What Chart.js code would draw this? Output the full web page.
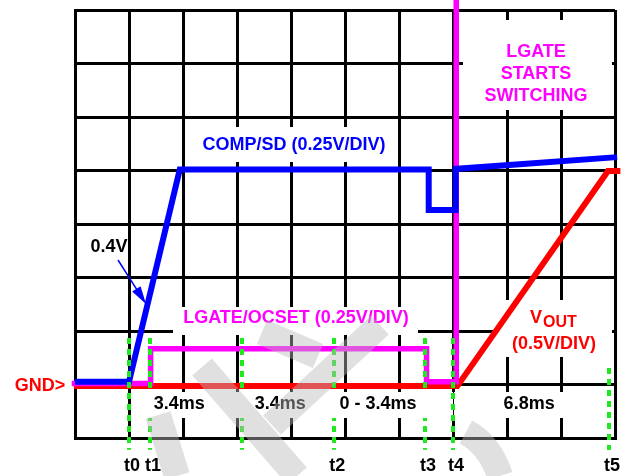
<!DOCTYPE html>
<html>
<head>
<meta charset="utf-8">
<script src="https://cdn.jsdelivr.net/npm/chart.js@4.4.1/dist/chart.umd.min.js"></script>
<style>
  html, body { margin: 0; padding: 0; background: #fff; }
  canvas { display: block; }
</style>
</head>
<body>
<canvas id="scope" width="626" height="476"></canvas>
<script>
// Waveforms in divisions (x: 10 div, y: 8 div, GND at ~1 div)
const compX = [0, 1.0, 1.94, 6.55, 6.55, 7.05, 7.05, 10.04];
const compY = [1.05, 1.05, 5.02, 5.02, 4.26, 4.26, 5.03, 5.25];

const lgateX = [-0.06, 1.4, 1.4, 6.51, 6.51, 7.06, 7.06];
const lgateY = [1.02, 1.02, 1.67, 1.67, 1.05, 1.05, 8.2];

const voutX = [-0.02, 7.08, 9.87, 10.1];
const voutY = [0.97, 0.97, 4.99, 4.99];

// timing markers
const markerTimes = [1.0, 1.39, 3.09, 4.8, 6.48, 7.0, 9.89];
const markerLabels = ['t0', 't1', '', 't2', 't3', 't4', 't5'];
const intervalLabels = ['3.4ms', '3.4ms', '0 - 3.4ms', '6.8ms'];

const toPoints = (xs, ys) => xs.map((x, i) => ({ x: x, y: ys[i] }));

const FONT = '"Liberation Sans", Arial, sans-serif';
const GREEN = '#1ee81e';

// white boxes behind text (grid is broken there)
function clearBoxes(ctx) {
    ctx.save();
    ctx.fillStyle = '#fff';
    ctx.fillRect(192, 127, 200, 35);   // COMP/SD
    ctx.fillRect(173, 307, 245, 28);   // LGATE/OCSET
    ctx.fillRect(463, 20, 149, 90);    // LGATE STARTS SWITCHING
    ctx.fillRect(496, 300, 116, 57);   // VOUT
    ctx.restore();
}

function drawText(ctx, txt, x, y, color, size) {
    ctx.font = 'bold ' + (size || 18) + 'px ' + FONT;
    ctx.fillStyle = color;
    ctx.textAlign = 'center';
    ctx.textBaseline = 'middle';
    ctx.fillText(txt, x, y);
}

function dashedV(ctx, x, y0, y1) {
    ctx.save();
    ctx.strokeStyle = GREEN;
    ctx.lineWidth = 4;
    ctx.setLineDash([6, 5]);
    ctx.beginPath();
    ctx.moveTo(x, y0);
    ctx.lineTo(x, y1);
    ctx.stroke();
    ctx.restore();
}

const scopeDecor = {
    id: 'scopeDecor',
    beforeDatasetsDraw(chart) {
        clearBoxes(chart.ctx);
    },
    afterDatasetsDraw(chart) {
        const ctx = chart.ctx;
        const xs = chart.scales.x, ys = chart.scales.y;

        // green timing lines
        markerTimes.forEach((t, i) => {
            const px = Math.round(xs.getPixelForValue(t));
            const top = i === markerTimes.length - 1 ? ys.getPixelForValue(1.31) : ys.getPixelForValue(1.87);
            dashedV(ctx, px, top, ys.getPixelForValue(-0.22));
        });

        // text row across the bottom division
        ctx.save();
        ctx.fillStyle = '#fff';
        ctx.fillRect(137, 392, 468, 26);
        ctx.restore();

        // t4 keeps a thin line and its dashes through the row
        const t4 = Math.round(xs.getPixelForValue(markerTimes[5]));
        ctx.save();
        ctx.strokeStyle = '#000';
        ctx.lineWidth = 1;
        ctx.beginPath();
        ctx.moveTo(t4 + 0.5, 390);
        ctx.lineTo(t4 + 0.5, 420);
        ctx.stroke();
        ctx.restore();
        dashedV(ctx, t4, ys.getPixelForValue(1.87), ys.getPixelForValue(-0.22));
        const t5 = Math.round(xs.getPixelForValue(markerTimes[6]));
        dashedV(ctx, t5, ys.getPixelForValue(1.31), ys.getPixelForValue(-0.22));

        // marker labels
        markerTimes.forEach((t, i) => {
            if (markerLabels[i]) drawText(ctx, markerLabels[i], xs.getPixelForValue(t) + 3, 466, '#000');
        });

        // interval labels
        const intervalPos = [1.93, 3.8, 5.61, 8.41];
        intervalLabels.forEach((s, i) => drawText(ctx, s, xs.getPixelForValue(intervalPos[i]), 404, '#000'));

        // trace labels
        drawText(ctx, 'GND>', 40, 386, '#ff0000');
        drawText(ctx, 'COMP/SD (0.25V/DIV)', 294, 145, '#0000ff');
        drawText(ctx, 'LGATE/OCSET (0.25V/DIV)', 296, 318, '#ff00ff');
        drawText(ctx, 'LGATE', 536, 52, '#ff00ff');
        drawText(ctx, 'STARTS', 536, 74, '#ff00ff');
        drawText(ctx, 'SWITCHING', 536, 96, '#ff00ff');
        drawText(ctx, '(0.5V/DIV)', 554, 344, '#ff0000');
        drawText(ctx, '0.4V', 109, 247, '#000');

        ctx.save();
        ctx.fillStyle = '#ff0000';
        ctx.textAlign = 'left';
        ctx.textBaseline = 'alphabetic';
        ctx.font = 'bold 18px ' + FONT;
        ctx.fillText('V', 530, 323);
        ctx.font = 'bold 16px ' + FONT;
        ctx.fillText('OUT', 543, 327);
        ctx.restore();

        // 0.4V arrow
        const ax0 = 118, ay0 = 260, ax1 = 146, ay1 = 304;
        const ang = Math.atan2(ay1 - ay0, ax1 - ax0);
        ctx.save();
        ctx.strokeStyle = '#0000ff';
        ctx.fillStyle = '#0000ff';
        ctx.lineWidth = 1.5;
        ctx.beginPath();
        ctx.moveTo(ax0, ay0);
        ctx.lineTo(ax1 - 12 * Math.cos(ang), ay1 - 12 * Math.sin(ang));
        ctx.stroke();
        ctx.beginPath();
        ctx.moveTo(ax1, ay1);
        ctx.lineTo(ax1 - 18 * Math.cos(ang) + 5 * Math.sin(ang), ay1 - 18 * Math.sin(ang) - 5 * Math.cos(ang));
        ctx.lineTo(ax1 - 18 * Math.cos(ang) - 5 * Math.sin(ang), ay1 - 18 * Math.sin(ang) + 5 * Math.cos(ang));
        ctx.closePath();
        ctx.fill();
        ctx.restore();

        // faint watermark
        ctx.save();
        ctx.strokeStyle = 'rgba(187,187,187,0.45)';
        ctx.lineWidth = 26;
        ctx.lineCap = 'butt';
        ctx.beginPath();
        ctx.moveTo(202, 367); ctx.lineTo(297, 476);
        ctx.moveTo(380, 325); ctx.lineTo(272, 425);
        ctx.moveTo(262, 332); ctx.lineTo(318, 356);
        ctx.moveTo(158, 415); ctx.lineTo(177, 476);
        ctx.moveTo(466, 432); ctx.quadraticCurveTo(490, 445, 500, 476);
        ctx.stroke();
        ctx.restore();
    }
};

const zeroFit = axis => (s) => { if (axis === 'x') s.height = 0; else s.width = 0; };

new Chart(document.getElementById('scope'), {
    type: 'line',
    data: {
        datasets: [
            {
                label: 'VOUT',
                data: toPoints(voutX, voutY),
                borderColor: '#ff0000',
                borderWidth: 6,
                clip: false,
                order: 3
            },
            {
                label: 'LGATE/OCSET',
                data: toPoints(lgateX, lgateY),
                borderColor: '#ff00ff',
                borderWidth: 5.5,
                clip: false,
                order: 2
            },
            {
                label: 'COMP/SD',
                data: toPoints(compX, compY),
                borderColor: '#0000ff',
                borderWidth: 6,
                clip: false,
                order: 1
            }
        ]
    },
    options: {
        responsive: false,
        animation: false,
        devicePixelRatio: 1,
        layout: { padding: { left: 75, right: 11, top: 10, bottom: 38 } },
        elements: {
            point: { radius: 0, hoverRadius: 0 },
            line: { tension: 0, borderJoinStyle: 'miter', borderCapStyle: 'butt' }
        },
        plugins: { legend: { display: false }, tooltip: { enabled: false } },
        scales: {
            x: {
                type: 'linear', min: 0, max: 10,
                ticks: { display: false, stepSize: 1 },
                grid: { color: '#000', lineWidth: 3, drawTicks: false },
                border: { color: '#000', width: 3 },
                afterFit: zeroFit('x')
            },
            y: {
                type: 'linear', min: 0, max: 8,
                ticks: { display: false, stepSize: 1 },
                grid: { color: '#000', lineWidth: 3, drawTicks: false },
                border: { color: '#000', width: 3 },
                afterFit: zeroFit('y')
            }
        }
    },
    plugins: [scopeDecor]
});
</script>
</body>
</html>
